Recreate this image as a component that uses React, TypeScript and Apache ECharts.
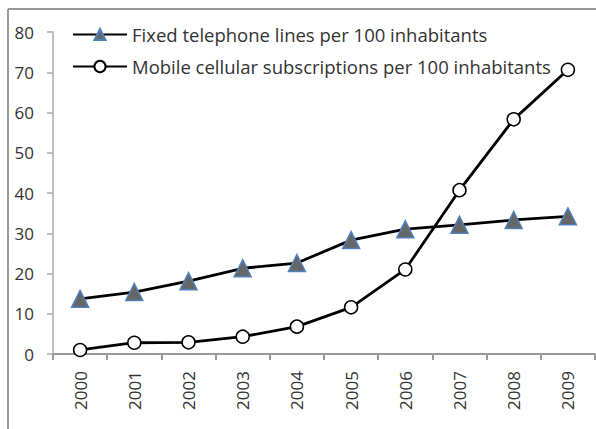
import React, { useEffect, useRef } from "react";
import * as echarts from "echarts";

const years = ["2000", "2001", "2002", "2003", "2004", "2005", "2006", "2007", "2008", "2009"];
const fixedLines = [13.7, 15.4, 18.1, 21.3, 22.6, 28.3, 31.0, 32.1, 33.3, 34.2];
const mobileSubs = [1.0, 2.8, 2.9, 4.3, 6.8, 11.6, 21.0, 40.7, 58.3, 70.6];
const yTicks = [0, 80, 10];

export default function App() {
  const ref = useRef<HTMLDivElement>(null);
  useEffect(() => {
    document.body.style.margin = "0";
    const chart = echarts.init(ref.current!, null, { renderer: "svg" });
    const font = "'Open Sans', sans-serif";
    chart.setOption({
      animation: false,
      backgroundColor: "#fff",
      grid: { left: 53, right: 1, top: 32, bottom: 75 },
      graphic: [
        { type: "line", shape: { x1: 8, y1: 9, x2: 596, y2: 9 }, style: { stroke: "#999", lineWidth: 2 } },
        { type: "line", shape: { x1: 8, y1: 9, x2: 8, y2: 429 }, style: { stroke: "#999", lineWidth: 2 } },
      ],
      legend: {
        orient: "vertical",
        left: 67,
        top: 19,
        itemWidth: 54,
        itemHeight: 14,
        itemGap: 11,
        textStyle: { fontFamily: font, fontSize: 18.5, lineHeight: 21, color: "#333" },
        data: [
          "Fixed telephone lines per 100 inhabitants",
          "Mobile cellular subscriptions per 100 inhabitants",
        ],
      },
      xAxis: {
        type: "category",
        data: years,
        boundaryGap: true,
        axisLine: { lineStyle: { color: "#999", width: 2 } },
        axisTick: { show: true, length: 6, lineStyle: { color: "#999", width: 2 } },
        axisLabel: { rotate: 90, margin: 17, fontFamily: font, fontSize: 17, color: "#333" },
      },
      yAxis: {
        type: "value",
        min: yTicks[0],
        max: yTicks[1],
        interval: yTicks[2],
        splitLine: { show: false },
        axisLine: { show: true, lineStyle: { color: "#aaa", width: 1.5 } },
        axisTick: { show: true, length: 6, lineStyle: { color: "#aaa", width: 1.5 } },
        axisLabel: { margin: 19, fontFamily: font, fontSize: 17, color: "#333" },
      },
      series: [
        {
          name: "Fixed telephone lines per 100 inhabitants",
          type: "line",
          data: fixedLines,
          symbol: "triangle",
          symbolSize: 17,
          showAllSymbol: true,
          lineStyle: { color: "#000", width: 2.8 },
          itemStyle: { color: "#666", borderColor: "#4f81bd", borderWidth: 1.5 },
          z: 2,
        },
        {
          name: "Mobile cellular subscriptions per 100 inhabitants",
          type: "line",
          data: mobileSubs,
          symbol: "circle",
          symbolSize: 13,
          showAllSymbol: true,
          lineStyle: { color: "#000", width: 2.8 },
          itemStyle: { color: "#fff", borderColor: "#000", borderWidth: 1.5 },
          z: 3,
        },
      ],
    });
    return () => chart.dispose();
  }, []);
  return <div ref={ref} style={{ width: 596, height: 429 }} />;
}
